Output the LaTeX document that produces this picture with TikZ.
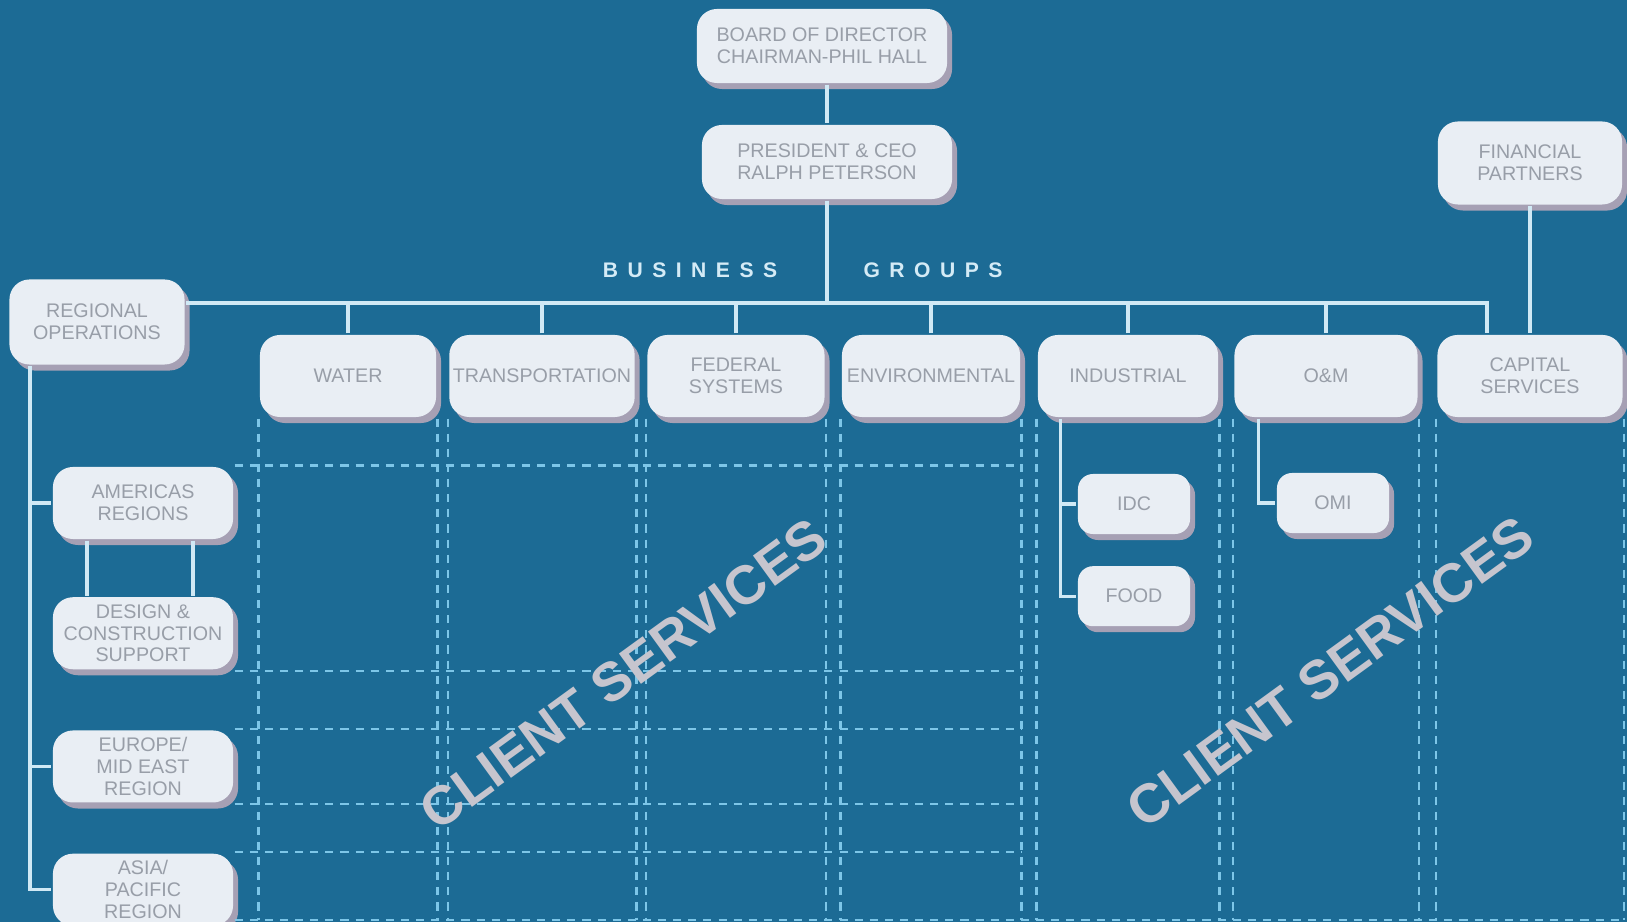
\documentclass[tikz,border=0pt]{standalone}
\usepackage{fontspec}
\setmainfont{Liberation Sans}
\usepackage{tikz}
\usetikzlibrary{positioning,shadows}
\definecolor{bgblue}{RGB}{28,107,149}
\definecolor{boxfill}{RGB}{233,238,244}
\definecolor{boxtext}{RGB}{152,158,168}
\definecolor{shadowc}{RGB}{166,160,180}
\definecolor{linec}{RGB}{208,233,245}
\definecolor{dashc}{RGB}{125,198,232}
\definecolor{cstext}{RGB}{198,197,206}
\definecolor{bustext}{RGB}{212,235,246}
\tikzset{
every path/.style={line width=0.9pt}
, every node/.style={font=\fontsize{5.6}{6.2}\selectfont, text=boxtext}
, orgbox/.style={fill=boxfill, rounded corners=2mm, align=center, inner sep=1pt,
    drop shadow={shadow xshift=0.5mm, shadow yshift=-0.6mm, fill=shadowc, opacity=1}}
, groupbox/.style={orgbox, minimum width=1.8cm, minimum height=0.82cm}
, regionbox/.style={orgbox, minimum width=1.8cm, minimum height=0.72cm}
, subbox/.style={orgbox, rounded corners=1.5mm, minimum width=1.12cm, minimum height=0.6cm}
, topbox/.style={orgbox, minimum width=2.5cm, minimum height=0.74cm}
, link/.style={draw=linec}
, gridline/.style={draw=dashc, line width=0.7pt, dash pattern=on 2.3pt off 2pt}
, banner/.style={text=bustext, font=\fontsize{6}{7}\selectfont\bfseries\addfontfeature{LetterSpace=45}}
, clientmark/.style={text=cstext, font=\fontsize{15.5}{17}\selectfont\bfseries, rotate=36}}

\begin{document}
\begin{tikzpicture}[x=0.01cm, y=-0.01cm]
\fill[bgblue] (0,0) rectangle (1627,922);
\useasboundingbox (0,0) rectangle (1627,922);
% top of the chart
\node[topbox] at (822,46) (board) {BOARD OF DIRECTOR\\CHAIRMAN-PHIL HALL};
\node[topbox] at (827,162) (pres) {PRESIDENT \& CEO\\RALPH PETERSON};
\node[banner] at (690,270) (busi) {BUSINESS};
\node[banner] at (933,270) (grps) {GROUPS};
% business groups
\node[groupbox, minimum width=1.76cm] at (348,376) (water) {WATER};
\node[groupbox, minimum width=1.85cm] at (542,376) (transp) {TRANSPORTATION};
\node[groupbox, minimum width=1.77cm] at (736,376) (fed) {FEDERAL\\SYSTEMS};
\node[groupbox, minimum width=1.78cm] at (931,376) (env) {ENVIRONMENTAL};
\node[groupbox] at (1128,376) (ind) {INDUSTRIAL};
\node[groupbox, minimum width=1.83cm] at (1326,376) (om) {O\&M};
\node[groupbox, minimum width=1.85cm] at (1530,376) (capital) {CAPITAL\\SERVICES};
\node[groupbox, minimum width=1.84cm, minimum height=0.83cm] at (1530,163) (fin) {FINANCIAL\\PARTNERS};
\node[subbox] at (1134,504) (idc) {IDC};
\node[subbox, below=2.9mm of idc] (food) {FOOD};
\node[subbox] at (1333,503) (omi) {OMI};
% regions
\node[orgbox, minimum width=1.75cm, minimum height=0.85cm] at (97,322) (regops) {REGIONAL\\OPERATIONS};
\node[regionbox] at (143,503) (amer) {AMERICAS\\REGIONS};
\node[regionbox, below=5.5mm of amer] (design) {DESIGN \&\\CONSTRUCTION\\SUPPORT};
\node[regionbox, below=5.8mm of design] (europe) {EUROPE/\\MID EAST\\REGION};
\node[regionbox, below=4.8mm of europe] (asia) {ASIA/\\PACIFIC\\REGION};
% dashed grid
\coordinate (floor) at (0,920);
\foreach \g in {water,transp,fed,env,ind,om,capital} {
  \draw[gridline] (\g.south west) -- (\g.south west |- floor);
  \draw[gridline] (\g.south east) -- (\g.south east |- floor);
}
\foreach \a in {amer.north east,design.south east,europe.north east,europe.south east,asia.north east}
  \draw[gridline] (\a) -- (\a -| env.south east);
\draw[gridline] (asia.south east |- floor) -- (capital.south east |- floor);
\node[clientmark] at (623,674) (cs1) {CLIENT SERVICES};
\node[clientmark] at (1330,672) (cs2) {CLIENT SERVICES};
% connectors
\coordinate (bus) at (827,303);
\coordinate (busend) at (1487,303);
\draw[link] (board.south -| pres) -- (pres);
\draw[link] (pres) -- (bus);
\draw[link] (regops.east |- bus) -- (busend) -- (busend |- capital.north);
\foreach \g in {water,transp,fed,env,ind,om}
  \draw[link] (\g.north) -- (\g.north |- bus);
\draw[link] (fin) -- (capital);
\coordinate (spine) at (30,365);
\draw[link] (spine |- regops.south) -- (spine |- asia) -- (asia.west);
\draw[link] (spine |- amer) -- (amer.west);
\draw[link] (spine |- europe) -- (europe.west);
\draw[link] ([xshift=-5.6mm]amer.south) -- ([xshift=-5.6mm]design.north);
\draw[link] ([xshift=5mm]amer.south) -- ([xshift=5mm]design.north);
\coordinate (indsp) at ([xshift=2.4mm]ind.south west);
\draw[link] (indsp) |- (food.west);
\draw[link] (indsp |- idc) -- (idc.west);
\coordinate (omsp) at ([xshift=2.6mm]om.south west);
\draw[link] (omsp) |- (omi.west);
\end{tikzpicture}
\end{document}
